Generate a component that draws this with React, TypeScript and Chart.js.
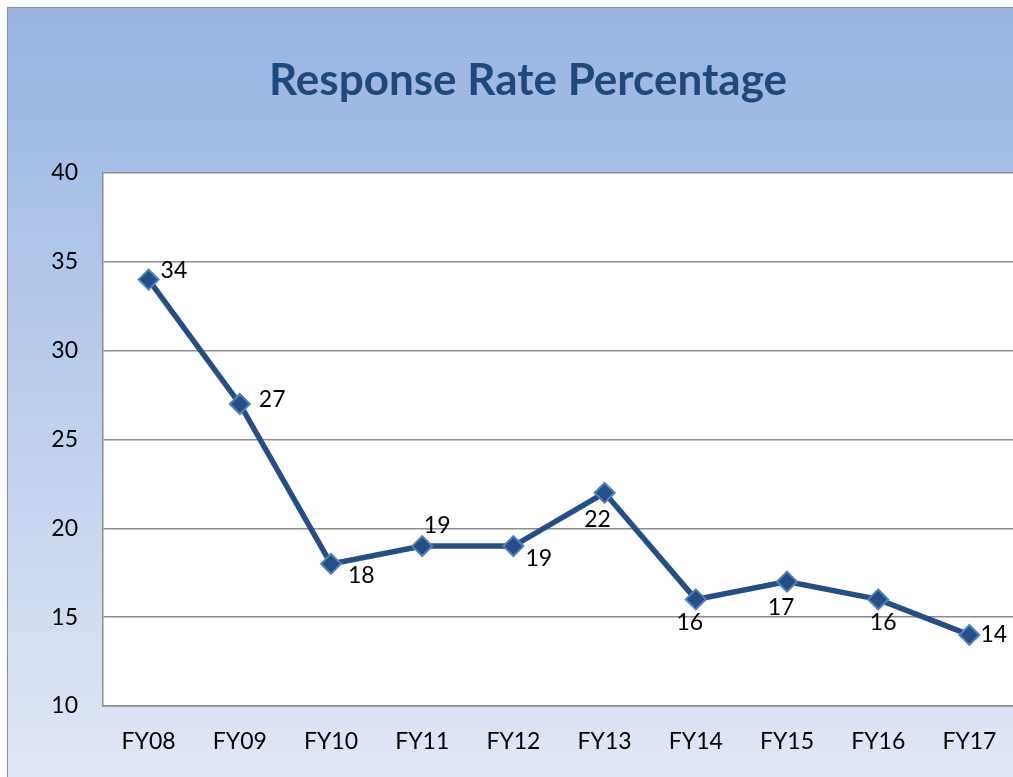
import React, { useEffect, useRef } from "react";
import { Chart, registerables } from "chart.js";

Chart.register(...registerables);

const categories = ["FY08", "FY09", "FY10", "FY11", "FY12", "FY13", "FY14", "FY15", "FY16", "FY17"];
const responseRate = [34, 27, 18, 19, 19, 22, 16, 17, 16, 14];
const yTicks = [10, 15, 20, 25, 30, 35, 40];

const titleText = "Response Rate Percentage";
const FONT = "Lato, 'Open Sans', sans-serif";
const CANVAS_W = 1040;
const CANVAS_H = 769;
const BG_TOP = "#98b4e2";
const BG_BOTTOM = "#e0e7f5";

// label placement relative to each point: [dx, dy, align]
const labelPlacement: [number, number, CanvasTextAlign][] = [
  [12, -9, "left"],
  [19, -4, "left"],
  [17, 12, "left"],
  [15, -21, "center"],
  [12, 12, "left"],
  [-7, 27, "center"],
  [-6, 23, "center"],
  [-6, 26, "center"],
  [5, 23, "center"],
  [11, 0, "left"],
];

const bgPlugin = {
  id: "bgPlugin",
  beforeDraw(chart: any) {
    const { ctx, width, height, chartArea } = chart;
    ctx.save();
    const g = ctx.createLinearGradient(0, 0, 0, height);
    g.addColorStop(0, BG_TOP);
    g.addColorStop(1, BG_BOTTOM);
    ctx.fillStyle = g;
    ctx.fillRect(0, 0, width, height);
    ctx.fillStyle = "#ffffff";
    ctx.fillRect(chartArea.left, chartArea.top, chartArea.right - chartArea.left, chartArea.bottom - chartArea.top);
    // chart title, centred on the full canvas
    ctx.fillStyle = "#1f497d";
    ctx.font = `bold 44px ${FONT}`;
    ctx.textAlign = "center";
    ctx.textBaseline = "middle";
    ctx.fillText(titleText, width / 2, 72.5);
    ctx.restore();
  },
};

const labelPlugin = {
  id: "labelPlugin",
  afterDatasetsDraw(chart: any) {
    const { ctx } = chart;
    const meta = chart.getDatasetMeta(0);
    ctx.save();
    ctx.font = `23px ${FONT}`;
    ctx.fillStyle = "#000000";
    ctx.textBaseline = "middle";
    meta.data.forEach((pt: any, i: number) => {
      const [dx, dy, align] = labelPlacement[i];
      ctx.textAlign = align;
      ctx.fillText(String(responseRate[i]), pt.x + dx, pt.y + dy);
    });
    ctx.restore();
  },
};

export default function App() {
  const ref = useRef<HTMLCanvasElement | null>(null);
  useEffect(() => {
    document.documentElement.style.background = [
      "linear-gradient(#fff,#fff) 0 0 / 7px 800px no-repeat",
      "linear-gradient(#fff,#fff) 0 0 / 1100px 7px no-repeat",
      "linear-gradient(#fff,#fff) 0 173px / 1100px 533px no-repeat",
      `linear-gradient(${BG_TOP},${BG_BOTTOM}) 0 8px / 1100px 769px no-repeat`,
      "#ffffff",
    ].join(", ");
    if (!ref.current) return;
    const chart = new Chart(ref.current, {
      type: "line",
      data: {
        labels: categories,
        datasets: [
          {
            data: responseRate,
            borderColor: "#244f86",
            borderWidth: 5.5,
            pointStyle: "rectRot",
            pointRadius: 10,
            pointBackgroundColor: "#244f86",
            pointBorderColor: "#4f81c0",
            pointBorderWidth: 2,
            tension: 0,
          },
        ],
      },
      options: {
        responsive: false,
        animation: false,
        devicePixelRatio: 1,
        layout: { padding: { left: 0, right: 33, top: 165, bottom: 0 } },
        plugins: {
          legend: { display: false },
          tooltip: { enabled: false },
          title: { display: false },
        },
        scales: {
          x: {
            offset: true,
            grid: { display: false, drawTicks: false },
            border: { display: true, color: "#8c8c8c", width: 1.5 },
            ticks: { color: "#000", font: { family: FONT, size: 23 }, padding: 22, maxRotation: 0 },
            afterFit(scale: any) {
              scale.height = 71;
            },
          },
          y: {
            min: 10,
            max: 40,
            afterBuildTicks(scale: any) {
              scale.ticks = yTicks.map((v) => ({ value: v }));
            },
            grid: { color: "#8c8c8c", lineWidth: 1.5, drawTicks: false },
            border: { display: true, color: "#8c8c8c", width: 1.5 },
            ticks: { color: "#000", font: { family: FONT, size: 23 }, padding: 25 },
            afterFit(scale: any) {
              scale.width = 95;
            },
          },
        },
      },
      plugins: [bgPlugin, labelPlugin],
    });
    return () => chart.destroy();
  }, []);

  return (
    <div
      style={{
        position: "fixed",
        left: 7,
        top: 7,
        width: CANVAS_W + 1,
        height: CANVAS_H + 1,
        overflow: "hidden",
        borderLeft: "1px solid #8c8c8c",
        borderTop: "1px solid #8c8c8c",
        boxSizing: "border-box",
      }}
    >
      <canvas
        ref={ref}
        width={CANVAS_W}
        height={CANVAS_H}
        style={{ display: "block", width: CANVAS_W, height: CANVAS_H }}
      />
    </div>
  );
}
